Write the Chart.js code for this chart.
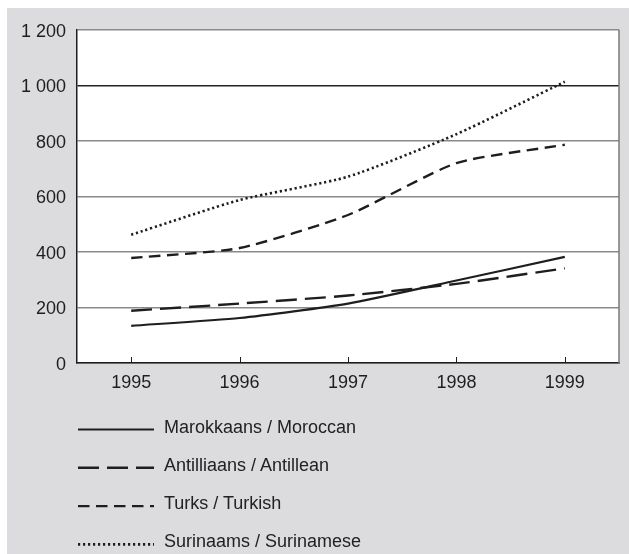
<!DOCTYPE html>
<html>
<head>
<meta charset="utf-8">
<script src="https://cdn.jsdelivr.net/npm/chart.js@4.4.1/dist/chart.umd.min.js"></script>
<style>
  html, body { margin: 0; padding: 0; background: #fff; }
  #frame { position: absolute; left: 7px; top: 8px; width: 622px; height: 546px; background: #dcdcde; }
  #chartBox { position: absolute; left: 0; top: 0; width: 622px; height: 392px; }
  #legend { position: absolute; left: 0; top: 0; }
  #legend text { font-family: "Liberation Sans", Arial, sans-serif; font-size: 18px; fill: #222; }
</style>
</head>
<body>
<div id="frame">
  <div id="chartBox"><canvas id="chart"></canvas></div>
  <svg id="legend" width="622" height="546"></svg>
</div>
<script>
const years = ["1995", "1996", "1997", "1998", "1999"];
const seriesNames = ["Marokkaans / Moroccan", "Antilliaans / Antillean", "Turks / Turkish", "Surinaams / Surinamese"];
const moroccan = [134, 162, 214, 297, 382];
const antillean = [188, 214, 243, 285, 341];
const turkish = [378, 414, 533, 720, 786];
const surinamese = [462, 587, 671, 824, 1013];
const yTicks = [0, 200, 400, 600, 800, 1000, 1200];

const INK = "#1e1e1e";
const dashes = [[], [21, 8], [11.5, 6.5], [2.2, 2.8]];
const widths = [2.2, 2.4, 2.4, 2.6];
const allSeries = [moroccan, antillean, turkish, surinamese];

function fmt(v) {
  return String(v).replace(/\B(?=(\d{3})+(?!\d))/g, " ");
}

const plotFrame = {
  id: "plotFrame",
  beforeDraw(chart) {
    const { ctx, chartArea: a } = chart;
    ctx.save();
    ctx.fillStyle = "#fff";
    ctx.fillRect(a.left, a.top, a.right - a.left, a.bottom - a.top);
    ctx.restore();
  },
  afterDraw(chart) {
    const { ctx, chartArea: a } = chart;
    const x = chart.scales.x;
    ctx.save();
    ctx.strokeStyle = "#7a7a7a";
    ctx.lineWidth = 1.5;
    ctx.beginPath();
    ctx.moveTo(a.right, a.top);
    ctx.lineTo(a.right, a.bottom);
    ctx.stroke();
    // tick marks pointing into the plot
    ctx.strokeStyle = INK;
    ctx.lineWidth = 1;
    years.forEach((_, i) => {
      const px = Math.round(x.getPixelForTick(i)) + 0.5;
      ctx.beginPath();
      ctx.moveTo(px, a.bottom);
      ctx.lineTo(px, a.bottom - 6);
      ctx.stroke();
    });
    ctx.restore();
  },
};

new Chart(document.getElementById("chart"), {
  type: "line",
  data: {
    labels: years,
    datasets: allSeries.map((d, i) => ({
      label: seriesNames[i],
      data: d,
      borderColor: INK,
      borderWidth: widths[i],
      borderDash: dashes[i],
      pointRadius: 0,
      tension: 0.2,
      fill: false,
    })),
  },
  options: {
    responsive: true,
    maintainAspectRatio: false,
    animation: false,
    layout: { padding: { top: 21, right: 10, left: 0, bottom: 0 } },
    plugins: { legend: { display: false }, tooltip: { enabled: false } },
    scales: {
      x: {
        offset: true,
        grid: { display: false, drawTicks: false },
        border: { color: INK, width: 1.5 },
        ticks: { color: INK, padding: 9, font: { family: "'Liberation Sans', Arial, sans-serif", size: 18 } },
        afterFit(scale) { scale.height = 37; },
      },
      y: {
        min: 0,
        max: 1200,
        afterBuildTicks(scale) { scale.ticks = yTicks.map((v) => ({ value: v })); },
        grid: {
          drawTicks: false,
          color: (c) => (c.tick && c.tick.value === 1000 ? "#222" : "#8a8a8a"),
          lineWidth: 1.5,
        },
        border: { color: INK, width: 1.5 },
        ticks: {
          color: INK,
          padding: 11,
          labelOffset: 2,
          font: { family: "'Liberation Sans', Arial, sans-serif", size: 18 },
          callback: (v) => fmt(v),
        },
        afterFit(scale) { scale.width = 70; },
      },
    },
  },
  plugins: [plotFrame],
});

// legend below the chart
const svg = document.getElementById("legend");
const NS = "http://www.w3.org/2000/svg";
seriesNames.forEach((name, i) => {
  const y = 421.5 + i * 38.3;
  const line = document.createElementNS(NS, "line");
  line.setAttribute("x1", 71);
  line.setAttribute("x2", 147);
  line.setAttribute("y1", y);
  line.setAttribute("y2", y);
  line.setAttribute("stroke", INK);
  line.setAttribute("stroke-width", widths[i]);
  if (dashes[i].length) line.setAttribute("stroke-dasharray", dashes[i].join(" "));
  svg.appendChild(line);
  const t = document.createElementNS(NS, "text");
  t.setAttribute("x", 157);
  t.setAttribute("y", y + 3);
  t.textContent = name;
  svg.appendChild(t);
});
</script>
</body>
</html>
